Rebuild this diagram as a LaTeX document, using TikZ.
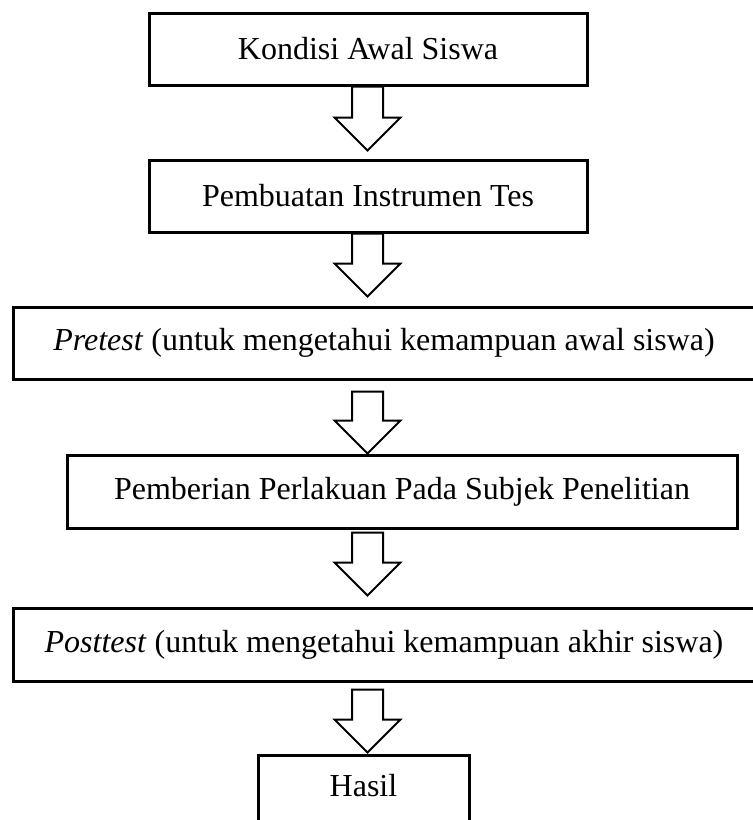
\documentclass[tikz,border=0pt]{standalone}
\usepackage{fontspec}
\setmainfont{Liberation Serif}
\usetikzlibrary{calc}

\begin{document}
\begin{tikzpicture}[x=0.5pt,y=-0.5pt,
    box/.style={draw,line width=1.5pt,rectangle,inner sep=0pt,minimum height=36pt,font=\fontsize{16}{19}\selectfont},
    hollow/.style={draw,line width=1pt,fill=white,line join=miter}]
    \useasboundingbox (0,0) rectangle (753,820);

    % Define the boxes
    \node[box,minimum width=219pt] (kondisi) at (368,49) {Kondisi Awal Siswa};
    \node[box,minimum width=219pt] (instrumen) at (368,196) {Pembuatan Instrumen Tes};
    \node[box,minimum width=371pt] (pretest) at (384,343) {\textit{Pretest} (untuk mengetahui kemampuan awal siswa)};
    \node[box,minimum width=335pt,minimum height=36.5pt] (perlakuan) at (402,491.5) {Pemberian Perlakuan Pada Subjek Penelitian};
    \node[box,minimum width=371pt,minimum height=36.5pt] (posttest) at (384,644.5) {\textit{Posttest} (untuk mengetahui kemampuan akhir siswa)};
    \node[box,minimum width=105.5pt,minimum height=40pt,text depth=10pt] (hasil) at (363.5,795) {Hasil};
    \coordinate (axis) at (367.5,0);

    % Draw the block arrows
    \foreach \a/\b/\g/\h in {kondisi/instrumen/0pt/4pt, instrumen/pretest/0pt/4.5pt,
        pretest/perlakuan/5.5pt/0pt, perlakuan/posttest/1.5pt/5.5pt, posttest/hasil/3.5pt/0.5pt}
        \draw[hollow] let \p1=(\a.south), \p2=(\b.north), \p3=(axis) in
            (\x3-7.75pt,\y1-\g) -- (\x3+7.75pt,\y1-\g) -- (\x3+7.75pt,\y2+\h+16.5pt)
            -- (\x3+16.5pt,\y2+\h+16.5pt) -- (\x3,\y2+\h) -- (\x3-16.5pt,\y2+\h+16.5pt)
            -- (\x3-7.75pt,\y2+\h+16.5pt) -- cycle;
\end{tikzpicture}
\end{document}
